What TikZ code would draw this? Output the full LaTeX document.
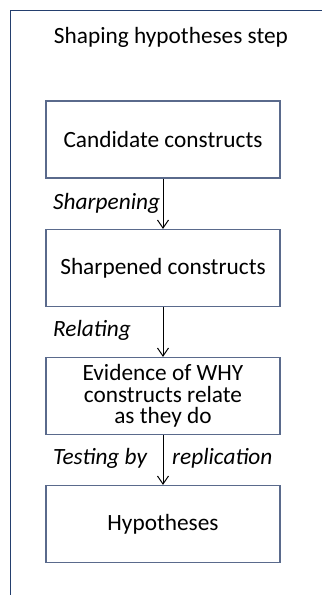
\documentclass[tikz,border=0pt]{standalone}
\usepackage{fontspec}
\setmainfont{Carlito}
\usetikzlibrary{arrows.meta}
\definecolor{framecol}{HTML}{243F6E}
\definecolor{boxcol}{HTML}{5A6A8C}
\begin{document}
\begin{tikzpicture}[x=1pt,y=-1pt,
  stepbox/.style={draw=boxcol, line width=1.2pt, minimum width=234pt, minimum height=77pt, inner sep=0pt, align=center, font=\fontsize{23.3}{21.5}\selectfont},
  lbl/.style={font=\fontsize{23.3}{21.5}\selectfont\itshape, inner sep=0pt},
  conn/.style={-{Straight Barb[length=8pt,width=11pt]}, line width=1pt, black}]
\useasboundingbox (0,0) rectangle (322,595);
\draw[framecol, line width=1.1pt] (10.5,595) -- (10.5,10.5) -- (322,10.5);
\node[font=\fontsize{23.3}{21.5}\selectfont] (title) at (171,37) {Shaping hypotheses step};
\node[stepbox] (b1) at (163,139.5) {Candidate constructs};
\node[stepbox] (b2) at (163,268) {Sharpened constructs};
\node[stepbox] (b3) at (163,396) {Evidence of WHY\\constructs relate\\as they do};
\node[stepbox] (b4) at (163,524) {Hypotheses};
\draw[conn] (b1) -- (b2);
\draw[conn] (b2) -- (b3);
\draw[conn] (b3) -- (b4);
\node[lbl, anchor=west] (l1) at (53,203) {Sharpening};
\node[lbl, anchor=west] (l2) at (53,330) {Relating};
\node[lbl, anchor=west] (l3) at (53,458) {Testing by};
\node[lbl, anchor=west] (l4) at (172,458) {replication};
\end{tikzpicture}
\end{document}
